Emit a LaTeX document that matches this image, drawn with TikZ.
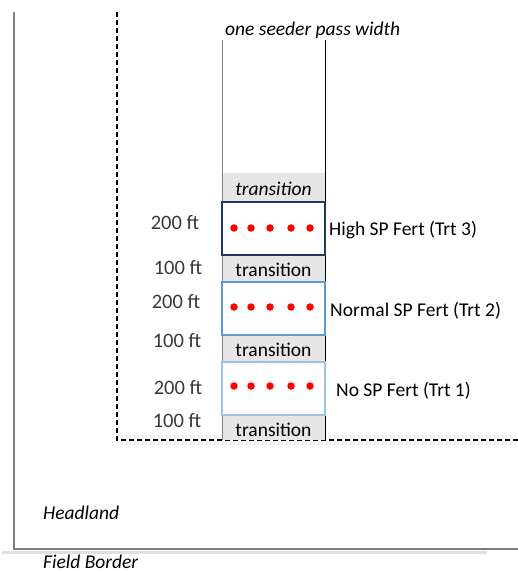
\documentclass[tikz,border=0pt]{standalone}
\usepackage{fontspec}
\setmainfont{Carlito}
\definecolor{navy}{HTML}{203864}
\definecolor{midblue}{HTML}{5B9BD5}
\definecolor{lightblue}{HTML}{9DC3E6}
\definecolor{transgray}{HTML}{E7E6E6}
\definecolor{ftgray}{HTML}{383838}
\definecolor{bordergray}{HTML}{7F7F7F}
\begin{document}
\begin{tikzpicture}[x=1pt,y=-1pt,
  every node/.style={font=\fontsize{19.5}{23}\selectfont, inner sep=0pt},
  plotbox/.style={draw, line width=2pt, fill=white, minimum width=103pt, minimum height=53pt},
  transbox/.style={fill=transgray, minimum width=103pt},
  seeddot/.style={circle, fill=red, minimum size=7.5pt},
  ftlabel/.style={text=ftgray, font=\fontsize{20.5}{24}\selectfont},
  trtlabel/.style={anchor=west},
  fielddash/.style={line width=1.3pt, dash pattern=on 5pt off 3pt}
]
\useasboundingbox (0,0) rectangle (518,571);

% field border and headland
\coordinate (bTop) at (14,12);
\coordinate (bCorner) at (14,549);
\coordinate (bRight) at (518,549);
\draw[bordergray, line width=1.5pt] (bTop) -- (bCorner) -- (bRight);
\coordinate (gA) at (2,552.5);
\coordinate (gB) at (487,552.5);
\draw[black!12, line width=2.5pt] (gA) -- (gB);

% dashed plot area
\coordinate (dTop) at (117,12);
\coordinate (dCorner) at (117,440);
\coordinate (dRight) at (518,440);
\draw[fielddash] (dTop) -- (dCorner) -- (dRight);

% transition bands
\node[transbox, minimum height=28.5pt] (t0) at (273.5,187.25) {};
\node[transbox, minimum height=27pt] (t1) at (273.5,268) {};
\node[transbox, minimum height=27pt] (t2) at (273.5,348) {};
\node[transbox, minimum height=25.5pt] (t3) at (273.5,427.25) {};
\node (t0text) at (273.5,189) {\itshape transition};
\node (t1text) at (273.5,270) {transition};
\node (t2text) at (273.5,350) {transition};
\node (t3text) at (273.5,430) {transition};

% seeder pass lines
\coordinate (cLT) at (222,40);
\coordinate (cLB) at (222,440);
\coordinate (cRT) at (325,40);
\coordinate (cRB) at (325,440);
\draw[bordergray, line width=1pt] (cLT) -- (cLB);
\draw[black, line width=1pt] (cRT) -- (cRB);

% plots
\node[plotbox, draw=navy] (p3) at (273.5,228) {};
\node[plotbox, draw=midblue] (p2) at (273.5,308) {};
\node[plotbox, draw=lightblue] (p1) at (273.5,388) {};

\foreach \p/\yy in {p3/228,p2/307,p1/386}{
  \foreach \xx [count=\i] in {234,251,270,291,310}{
    \node[seeddot] (\p d\i) at (\xx,\yy) {};
  }
}

% treatment labels
\node[trtlabel] (l3) at (329,230.5) {High SP Fert (Trt 3)};
\node[trtlabel] (l2) at (330,310.5) {Normal SP Fert (Trt 2)};
\node[trtlabel] (l1) at (336,390.5) {No SP Fert (Trt 1)};

% distance labels
\node[ftlabel] (f1) at (175,223) {200 ft};
\node[ftlabel] (f2) at (178,268) {100 ft};
\node[ftlabel] (f3) at (176,302) {200 ft};
\node[ftlabel] (f4) at (177,341) {100 ft};
\node[ftlabel] (f5) at (178,388) {200 ft};
\node[ftlabel] (f6) at (177,421) {100 ft};

% other texts
\node[anchor=west] (pass) at (225,30) {\itshape one seeder pass width};
\node[anchor=west] (head) at (43,513) {\itshape Headland};
\node[anchor=west] (fb) at (43,561.5) {\itshape Field Border};
\end{tikzpicture}
\end{document}
